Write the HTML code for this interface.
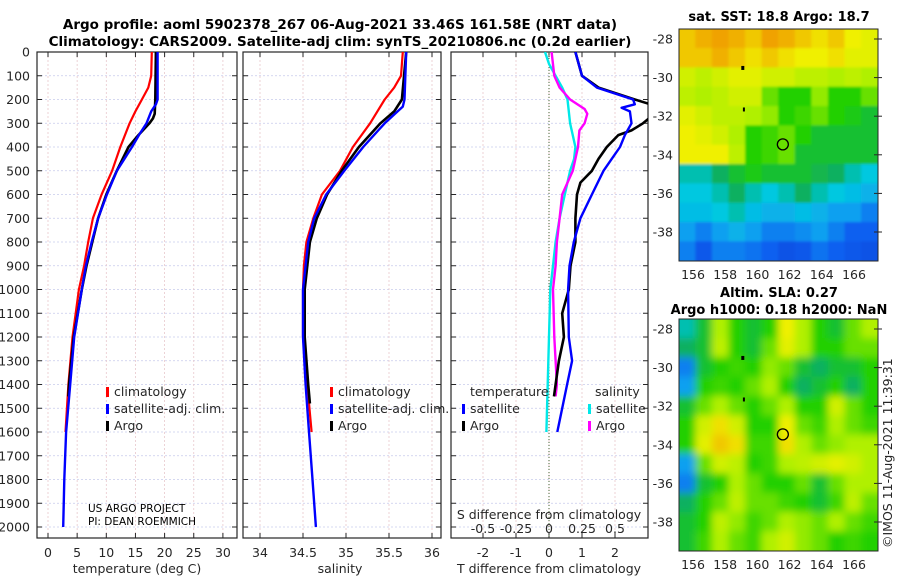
<!DOCTYPE html>
<html><head><meta charset="utf-8"><style>
body{margin:0;background:#fff;font-family:"DejaVu Sans","Liberation Sans",sans-serif;}
svg text{font-family:"DejaVu Sans","Liberation Sans",sans-serif;fill:#262626;}
</style></head><body>
<svg id="fig" width="900" height="580" viewBox="0 0 900 580" xmlns="http://www.w3.org/2000/svg">
<defs>
<clipPath id="c3"><rect x="451" y="52" width="197" height="486"/></clipPath>
<filter id="blur" x="-0.1" y="-0.1" width="1.2" height="1.2"><feGaussianBlur stdDeviation="4"/></filter>
<filter id="blur2" x="-0.1" y="-0.1" width="1.2" height="1.2"><feGaussianBlur stdDeviation="1.2"/></filter>
<clipPath id="cm1"><rect x="679" y="29" width="199" height="232"/></clipPath>
<clipPath id="cm2"><rect x="679" y="319" width="199" height="232"/></clipPath>
</defs>
<text x="340" y="29" text-anchor="middle" font-size="13.5" font-weight="bold" style="fill:#000">Argo profile: aoml 5902378_267 06-Aug-2021 33.46S 161.58E (NRT data)</text>
<text x="340" y="46" text-anchor="middle" font-size="13.5" font-weight="bold" style="fill:#000">Climatology: CARS2009. Satellite-adj clim: synTS_20210806.nc (0.2d earlier)</text>
<g id="g1"></g>
<g id="g2"></g>
<g id="g3"></g>
<g id="m1"></g>
<g id="m2"></g>
<text x="88" y="512" font-size="10.5" style="fill:#000">US ARGO PROJECT</text>
<text x="88" y="525" font-size="10.5" style="fill:#000">PI: DEAN ROEMMICH</text>
<text transform="translate(892,548) rotate(-90)" font-size="12.5">©IMOS 11-Aug-2021 11:39:31</text>
</svg>
<script>
// ---- data ----
const depthTicks=[0,100,200,300,400,500,600,700,800,900,1000,1100,1200,1300,1400,1500,1600,1700,1800,1900,2000];
const tempTicks=[0,5,10,15,20,25,30];
const salTicks=[34,34.5,35,35.5,36];
const tdTicks=[-2,-1,0,1,2];
const sdTicks=[-0.5,-0.25,0,0.25,0.5];
const sdTickLabels=["-0.5","-0.25","0","0.25","0.5"];
const climTDepth=[0,100,150,200,250,300,400,500,600,700,800,900,1000,1200,1400,1600];
const climT=[17.8,17.7,17.2,16.1,15.0,14.0,12.4,11.0,9.2,7.7,6.9,6.2,5.3,4.2,3.5,3.0];
const satTDepth=[0,200,220,250,300,350,400,500,600,700,800,900,1000,1200,1400,1600,1800,2000];
const satT=[18.8,18.8,18.5,17.7,16.9,15.6,14.4,11.8,10.1,8.6,7.5,6.5,5.8,4.5,3.8,3.1,2.8,2.6];
const argoTDepth=[0,200,260,280,300,350,400,450,500,600,700,800,900,1000,1200,1400,1450];
const argoT=[18.5,18.4,18.3,18.0,17.4,15.5,13.8,12.8,11.8,10.0,8.6,7.6,6.6,5.8,4.4,3.6,3.5];
const climSDepth=[0,100,150,200,300,400,500,600,700,800,900,1000,1200,1400,1600];
const climS=[35.66,35.64,35.56,35.45,35.28,35.08,34.93,34.72,34.62,34.54,34.51,34.5,34.5,34.55,34.6];
const satSDepth=[0,200,230,250,300,400,500,600,700,800,1000,1200,1400,1600,1800,2000];
const satS=[35.7,35.68,35.66,35.6,35.45,35.2,34.98,34.77,34.63,34.56,34.5,34.5,34.53,34.57,34.61,34.65];
const argoSDepth=[0,200,250,300,400,500,600,700,800,1000,1200,1400,1480];
const argoS=[35.7,35.65,35.56,35.4,35.15,34.95,34.78,34.66,34.58,34.52,34.52,34.56,34.58];
const satTdDepth=[0,100,150,200,220,235,250,300,350,400,450,500,600,700,800,900,1000,1200,1300,1400,1500,1600];
const satTd=[0.8,1.0,1.45,2.55,2.6,2.2,2.45,2.5,2.3,2.15,1.9,1.65,1.3,0.95,0.75,0.62,0.58,0.6,0.7,0.55,0.4,0.25];
const argoTdDepth=[0,100,150,200,230,260,300,330,350,400,450,500,550,600,700,800,900,1000,1100,1200,1300,1400,1450];
const argoTd=[0.8,1.0,1.5,2.6,3.3,3.2,2.85,2.5,2.1,1.75,1.5,1.3,0.95,0.85,0.8,0.8,0.65,0.6,0.4,0.45,0.3,0.2,0.15];
const satSdDepth=[0,50,100,150,200,300,400,450,500,600,700,800,900,1000,1200,1400,1600];
const satSd=[-0.03,0.0,0.05,0.1,0.14,0.16,0.2,0.19,0.16,0.12,0.08,0.05,0.03,0.01,0.0,-0.01,-0.02];
const argoSdDepth=[0,100,150,200,240,260,300,330,400,450,500,550,600,700,800,900,1000,1200,1400,1450];
const argoSd=[0.02,0.04,0.08,0.16,0.27,0.29,0.27,0.23,0.22,0.2,0.18,0.14,0.1,0.08,0.06,0.05,0.03,0.04,0.06,0.05];
const latTicks=[-28,-30,-32,-34,-36,-38];
const lonTicks=[156,158,160,162,164,166];
const sstGrid=[
[0.85,0.88,0.9,0.88,0.85,0.9,0.88,0.85,0.82,0.85,0.8,0.78],
[0.85,0.85,0.88,0.85,0.82,0.85,0.82,0.8,0.8,0.82,0.78,0.78],
[0.75,0.72,0.75,0.78,0.78,0.75,0.75,0.72,0.72,0.7,0.72,0.7],
[0.72,0.7,0.72,0.75,0.75,0.65,0.6,0.6,0.68,0.6,0.6,0.65],
[0.78,0.75,0.72,0.72,0.7,0.68,0.6,0.62,0.65,0.6,0.58,0.55],
[0.8,0.78,0.75,0.7,0.6,0.62,0.65,0.6,0.55,0.55,0.55,0.55],
[0.8,0.8,0.8,0.72,0.6,0.62,0.65,0.55,0.55,0.55,0.55,0.55],
[0.45,0.45,0.5,0.55,0.58,0.55,0.55,0.55,0.52,0.5,0.45,0.42],
[0.42,0.42,0.45,0.5,0.45,0.42,0.45,0.5,0.45,0.42,0.4,0.38],
[0.4,0.4,0.42,0.45,0.4,0.38,0.38,0.4,0.38,0.35,0.35,0.3],
[0.35,0.3,0.35,0.38,0.35,0.3,0.3,0.32,0.35,0.3,0.25,0.25],
[0.3,0.22,0.3,0.3,0.28,0.25,0.2,0.22,0.28,0.25,0.22,0.2]];
const slaGrid=[
[0.45,0.55,0.7,0.6,0.55,0.6,0.8,0.7,0.6,0.55,0.65,0.7],
[0.5,0.55,0.72,0.6,0.55,0.65,0.78,0.7,0.6,0.6,0.65,0.65],
[0.3,0.55,0.6,0.62,0.6,0.68,0.65,0.55,0.5,0.55,0.55,0.6],
[0.35,0.6,0.62,0.6,0.65,0.7,0.6,0.5,0.55,0.6,0.5,0.6],
[0.55,0.65,0.7,0.65,0.6,0.65,0.7,0.6,0.6,0.75,0.65,0.6],
[0.6,0.75,0.82,0.75,0.6,0.6,0.8,0.65,0.62,0.7,0.65,0.62],
[0.6,0.78,0.85,0.82,0.62,0.62,0.82,0.7,0.65,0.68,0.7,0.7],
[0.35,0.65,0.75,0.72,0.6,0.62,0.7,0.72,0.75,0.78,0.75,0.7],
[0.3,0.55,0.6,0.7,0.65,0.6,0.6,0.65,0.55,0.65,0.7,0.7],
[0.5,0.6,0.65,0.72,0.65,0.65,0.62,0.6,0.55,0.62,0.72,0.65],
[0.55,0.6,0.72,0.68,0.62,0.65,0.7,0.68,0.65,0.7,0.65,0.62],
[0.55,0.62,0.7,0.65,0.62,0.7,0.75,0.68,0.65,0.6,0.62,0.6]];
const floatLat=-33.46, floatLon=161.58;

// ---- scales ----
const NS="http://www.w3.org/2000/svg";
const yD=d=>52+d*0.2375;
const xT=v=>48+v*5.83;
const xS=v=>260+(v-34)*86;
const xTd=v=>549+v*33;
const xSd=v=>549+v*132;
const yLat1=l=>39+(-28-l)*19.3;
const yLat2=l=>329+(-28-l)*19.3;
const xLon=l=>693+(l-156)*16.1;
function el(p,tag,a){const e=document.createElementNS(NS,tag);for(const k in a)e.setAttribute(k,a[k]);p.appendChild(e);return e;}
function grid(g,x0,x1,xs){
  depthTicks.forEach(d=>{const l=el(g,'line',{x1:x0,x2:x1,y1:yD(d),y2:yD(d),stroke:'#c8cbec','stroke-width':0.8,'stroke-dasharray':'2,2'});
    
    
    el(g,'line',{x1:x0,x2:x0+5,y1:yD(d),y2:yD(d),stroke:'#262626'});el(g,'line',{x1:x1-5,x2:x1,y1:yD(d),y2:yD(d),stroke:'#262626'});});
  xs.forEach(x=>{const l=el(g,'line',{x1:x,x2:x,y1:52,y2:538,stroke:'#e8c8cc','stroke-width':0.8,'stroke-dasharray':'2,2'});
    
    
    el(g,'line',{x1:x,x2:x,y1:538,y2:533,stroke:'#262626'});el(g,'line',{x1:x,x2:x,y1:52,y2:57,stroke:'#262626'});});
  const r=el(g,'rect',{x:x0,y:52,width:x1-x0,height:486,fill:'none',stroke:'#262626','stroke-width':1.2});
  
  
}
function line(g,ds,vs,sx,color,w,name){
  const pts=ds.map((d,i)=>sx(vs[i]).toFixed(1)+','+yD(d).toFixed(1)).join(' ');
  const p=el(g,'polyline',{points:pts,fill:'none',stroke:color,'stroke-width':w,'stroke-linejoin':'round'});
  
  
}
function txt(g,x,y,s,anchor,size,name){const t=el(g,'text',{x:x,y:y,'text-anchor':anchor||'middle','font-size':size||12.5});t.textContent=s;
  
  return t;}
function legend(g,x,y,color,label){el(g,'rect',{x:x,y:y-9,width:3,height:10,fill:color});txt(g,x+8,y,label,'start',12.5,'legend-entry');}

// panel 1
const g1=document.getElementById('g1');
grid(g1,37,237,tempTicks.map(xT));
depthTicks.forEach(d=>txt(g1,30,yD(d)+4.5,String(d),'end',12.5,'depth-tick-label'));
tempTicks.forEach(v=>txt(g1,xT(v),557,String(v),'middle',12.5,'temperature-tick-label'));
txt(g1,137,573,'temperature (deg C)','middle',12.5,'x-axis-title');
line(g1,climTDepth,climT,xT,'#ff0000',2.2,'climatology-temperature-line');
line(g1,argoTDepth,argoT,xT,'#000000',2.6,'argo-temperature-line');
line(g1,satTDepth,satT,xT,'#0000ff',2.4,'satellite-temperature-line');
legend(g1,106,396,'#ff0000','climatology');legend(g1,106,413,'#0000ff','satellite-adj. clim.');legend(g1,106,430,'#000000','Argo');

// panel 2
const g2=document.getElementById('g2');
grid(g2,243,441,salTicks.map(xS));
salTicks.forEach(v=>txt(g2,xS(v),557,String(v),'middle',12.5,'salinity-tick-label'));
txt(g2,340,573,'salinity','middle',12.5,'x-axis-title');
line(g2,climSDepth,climS,xS,'#ff0000',2.2,'climatology-salinity-line');
line(g2,argoSDepth,argoS,xS,'#000000',2.6,'argo-salinity-line');
line(g2,satSDepth,satS,xS,'#0000ff',2.4,'satellite-salinity-line');
legend(g2,330,396,'#ff0000','climatology');legend(g2,330,413,'#0000ff','satellite-adj. clim.');legend(g2,330,430,'#000000','Argo');

// panel 3
const g3=document.getElementById('g3');
grid(g3,451,648,tdTicks.map(xTd));
el(g3,'line',{x1:549,x2:549,y1:52,y2:538,stroke:'#4a6a3a','stroke-width':1,'stroke-dasharray':'1,2'});
tdTicks.forEach(v=>txt(g3,xTd(v),557,String(v),'middle',12.5,'t-diff-tick-label'));
txt(g3,549,573,'T difference from climatology','middle',12.5,'x-axis-title');
txt(g3,549,519,'S difference from climatology','middle',12.5,'s-axis-title');
sdTicks.forEach((v,i)=>txt(g3,xSd(v),533,sdTickLabels[i],'middle',12.5,'s-diff-tick-label'));
const c3=el(g3,'g',{'clip-path':'url(#c3)'});
line(c3,satSdDepth,satSd,xSd,'#00e8e8',2.4,'satellite-salinity-diff-line');
line(c3,argoSdDepth,argoSd,xSd,'#ff00ff',2.4,'argo-salinity-diff-line');
line(c3,argoTdDepth,argoTd,xTd,'#000000',2.6,'argo-temperature-diff-line');
line(c3,satTdDepth,satTd,xTd,'#0000ff',2.4,'satellite-temperature-diff-line');
txt(g3,470,396,'temperature','start',12.5,'legend-title');
txt(g3,595,396,'salinity','start',12.5,'legend-title');
legend(g3,462,413,'#0000ff','satellite');legend(g3,462,430,'#000000','Argo');
legend(g3,588,413,'#00e8e8','satellite');legend(g3,588,430,'#ff00ff','Argo');

// maps
const stops=[[0,[0,32,192]],[0.25,[16,96,240]],[0.35,[16,160,240]],[0.42,[0,200,224]],[0.5,[16,176,96]],[0.6,[32,208,0]],[0.7,[176,240,0]],[0.8,[240,240,0]],[0.88,[240,176,0]],[0.95,[240,128,0]]];
function cmap(v){for(let i=1;i<stops.length;i++){if(v<=stops[i][0]){const a=stops[i-1],b=stops[i],t=(v-a[0])/(b[0]-a[0]);
 return 'rgb('+a[1].map((c,k)=>Math.round(c+(b[1][k]-c)*t)).join(',')+')';}}const c=stops[stops.length-1][1];return 'rgb('+c.join(',')+')';}
function map(id,gridv,y0,yLat,title1,title2,filt,clip){
  const g=document.getElementById(id);
  const inner=el(g,'g',{'clip-path':'url(#'+clip+')'});
  const inner2=el(inner,'g',{filter:'url(#'+filt+')'});
  const rows=gridv.length,cols=gridv[0].length,cw=199/cols,ch=232/rows,pad=14;
  gridv.forEach((r,i)=>r.forEach((v,j)=>{
    let x=679+j*cw-0.3,y=y0+i*ch-0.3,w=cw+0.6,h=ch+0.6;
    if(j===0){x-=pad;w+=pad;} if(j===cols-1){w+=pad;}
    if(i===0){y-=pad;h+=pad;} if(i===rows-1){h+=pad;}
    const c=el(inner2,'rect',{x:x,y:y,width:w,height:h,fill:cmap(v)});
    
    }));
  el(g,'rect',{x:679,y:y0,width:199,height:232,fill:'none',stroke:'#262626','stroke-width':1});
  latTicks.forEach(l=>{txt(g,673,yLat(l)+4.5,String(l),'end',12.5,'latitude-tick-label');
    el(g,'line',{x1:878,x2:874,y1:yLat(l),y2:yLat(l),stroke:'#262626'});el(g,'line',{x1:878,x2:882,y1:yLat(l),y2:yLat(l),stroke:'#262626'});});
  lonTicks.forEach(l=>txt(g,xLon(l),y0+250,String(l),'middle',12.5,'longitude-tick-label'));
  const m=el(g,'circle',{cx:xLon(floatLon),cy:yLat(floatLat),r:5.5,fill:'none',stroke:'#000','stroke-width':1.3});
  
  
  el(g,'rect',{x:xLon(159),y:yLat(-29.5)-2,width:3,height:4,fill:'#000'});
  el(g,'rect',{x:xLon(159.1),y:yLat(-31.6)-1,width:2,height:4,fill:'#000'});
  const t1=txt(g,779,title2?y0-22:y0-8,title1,'middle',13,'map-title');t1.setAttribute('font-weight','bold');t1.style.fill='#000';
  if(title2){const t2=txt(g,779,y0-5,title2,'middle',13,'map-subtitle');t2.setAttribute('font-weight','bold');t2.style.fill='#000';}
}
map('m1',sstGrid,29,yLat1,'sat. SST: 18.8 Argo: 18.7',null,'blur2','cm1');
map('m2',slaGrid,319,yLat2,'Altim. SLA: 0.27','Argo h1000: 0.18 h2000: NaN','blur','cm2');
</script>
</body></html>
